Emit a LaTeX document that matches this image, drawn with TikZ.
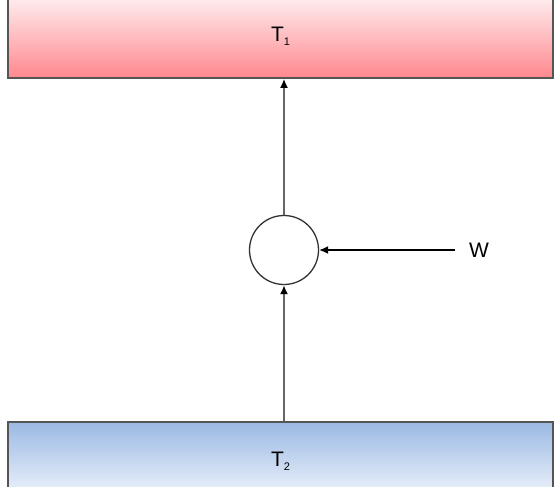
\documentclass[tikz,border=0pt]{standalone}
\usepackage{fontspec}
\setmainfont{Liberation Sans}
\definecolor{hotTop}{RGB}{254,240,241}
\definecolor{hotBot}{RGB}{255,136,142}
\definecolor{coldTop}{RGB}{155,185,228}
\definecolor{coldBot}{RGB}{242,246,252}
\definecolor{edgeGray}{RGB}{85,85,85}
\newcommand{\tsub}[1]{\raisebox{-0.35ex}{\fontsize{11}{12}\selectfont #1}}
\tikzset{
	reservoir/.style={shape=rectangle, draw=edgeGray, line width=1.6pt, minimum width=545pt, inner sep=0pt, font=\fontsize{21}{23}\selectfont},
	machine/.style={shape=circle, draw=black!80, line width=1.3pt, minimum size=69pt, inner sep=0pt},
	flow/.style={line width=2.2pt, draw=black!60, -{Latex[length=9pt,width=8pt,black]}},
	work/.style={line width=1.3pt, draw=black, -{Latex[length=9pt,width=8pt]}}
}
\usetikzlibrary{arrows.meta}
\begin{document}
\begin{tikzpicture}[x=1pt, y=-1pt]
	\useasboundingbox (0,0) rectangle (557,487);
	\node[reservoir, minimum height=83pt, top color=hotTop, bottom color=hotBot] (hot) at (280.5, 36.5){T\tsub{1}};
	\node[reservoir, minimum height=78pt, top color=coldTop, bottom color=coldBot] (cold) at (280.5, 461){T\tsub{2}};
	\node[machine] (engine) at (284, 250){};
	\coordinate (wstart) at (455, 250);
	\node[anchor=west, inner sep=0pt, font=\fontsize{21}{23}\selectfont] (wlabel) at (469, 250){W};
	\draw[flow] (engine.south |- cold.north) -- (engine.south);
	\draw[flow] (engine.north) -- (engine.north |- hot.south);
	\draw[work] (wstart) -- (engine.east);
\end{tikzpicture}
\end{document}
